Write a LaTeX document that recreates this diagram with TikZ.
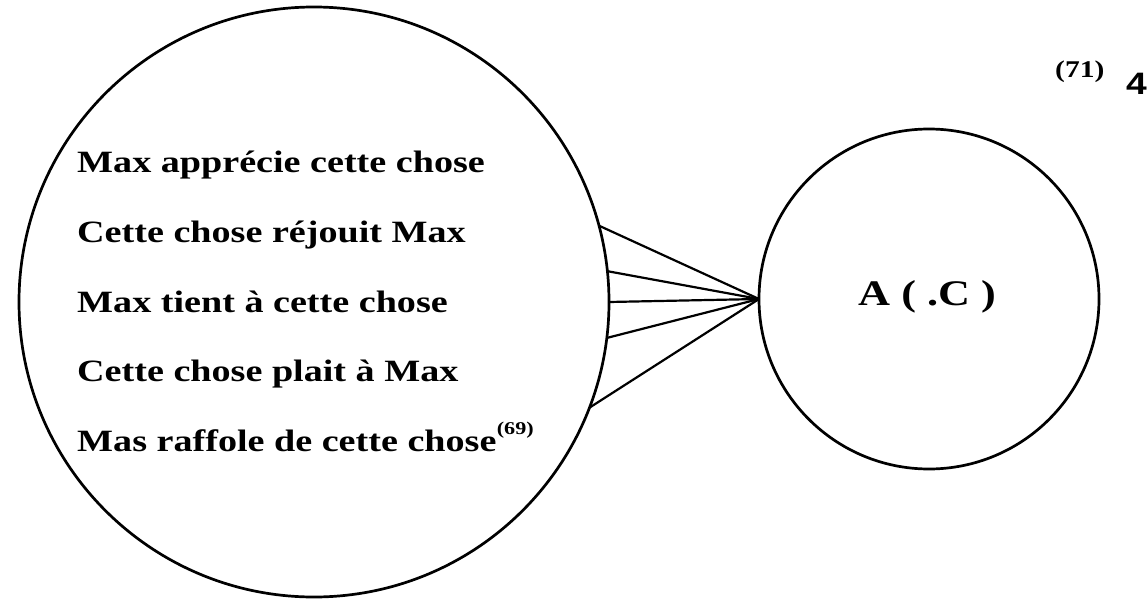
\documentclass[tikz,border=0pt]{standalone}
\usepackage{fontspec}
\setmainfont{Liberation Serif}[FakeStretch=1.23]
\newfontfamily\numfont{Liberation Sans}[FakeStretch=1.2]
\begin{document}
\begin{tikzpicture}[x=1pt, y=-1pt,
  ring/.style={circle, draw, line width=2.7pt, inner sep=0pt, outer sep=0pt},
  lab/.style={anchor=base west, inner sep=0pt, font=\fontsize{31}{31}\selectfont\bfseries},
  sup/.style={anchor=base west, inner sep=0pt, font=\fontsize{18}{18}\selectfont\bfseries},
  fan/.style={line width=2.2pt}]
  \useasboundingbox (0,0) rectangle (1147,599);

  % the two circles
  \node[ring, minimum size=590pt] (big) at (314,302) {};
  \node[ring, minimum size=340pt] (small) at (929,299) {};

  % the five statements
  \node[lab] (s1) at (77,172) {Max apprécie cette chose};
  \node[lab] (s2) at (77,242) {Cette chose réjouit Max};
  \node[lab] (s3) at (77,312) {Max tient à cette chose};
  \node[lab] (s4) at (77,381) {Cette chose plait à Max};
  \node[lab] (s5) at (77,451) {Mas raffole de cette chose};
  \node[sup] (n69) at (s5.base east) [yshift=17pt] {(69)};

  % the concept
  \node[lab, font=\fontsize{36}{36}\selectfont\bfseries] (a) at (858,305) {A ( .C )};

  % number in the corner
  \node[sup, font=\fontsize{24}{24}\selectfont\bfseries] (n71) at (1055,78) {(71)};
  \node[anchor=base east, inner sep=0pt, font=\numfont\fontsize{31}{31}\selectfont\bfseries] (four) at (1147,95) {4};

  % fan of connectors
  \draw[fan] (big.15) -- (small.west);
  \draw[fan] (big.6.4) -- (small.west);
  \draw[fan] (big.0) -- (small.west);
  \draw[fan] (big.-7.4) -- (small.west);
  \draw[fan] (big.-21) -- (small.west);
\end{tikzpicture}
\end{document}
